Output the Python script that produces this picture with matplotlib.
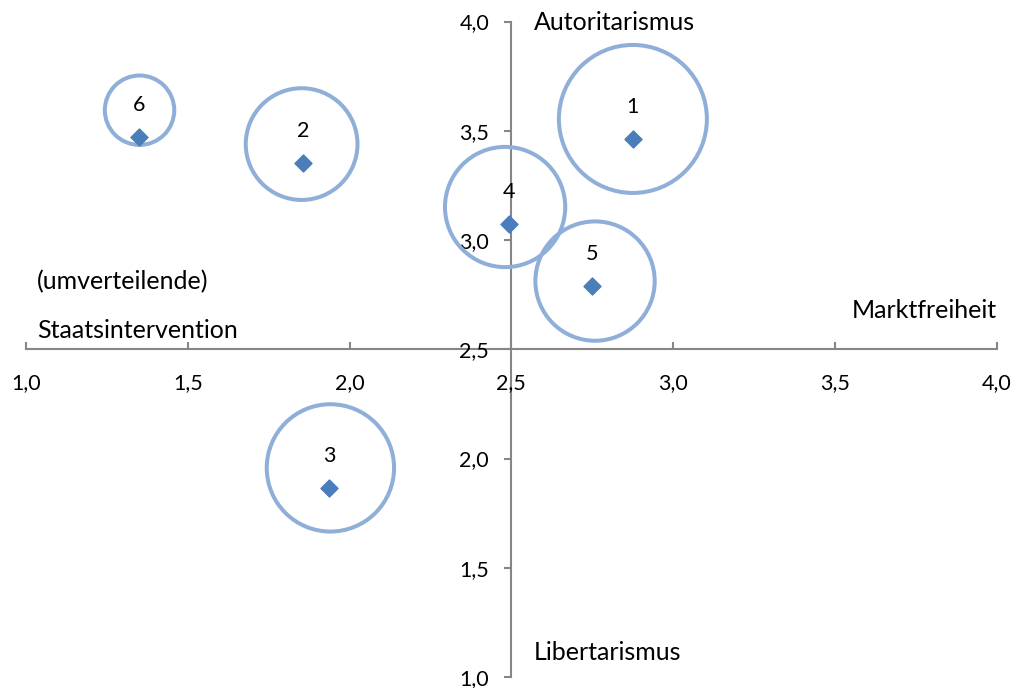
import matplotlib
matplotlib.use("Agg")
import matplotlib.pyplot as plt
from matplotlib.ticker import FuncFormatter
import numpy as np

# Daten: Parteien (Punkte) und Blasen
labels = ["1", "2", "3", "4", "5", "6"]
point_x = [2.876, 1.857, 1.937, 2.493, 2.751, 1.350]
point_y = [3.462, 3.351, 1.865, 3.072, 2.791, 3.470]
bubble_x = [2.876, 1.852, 1.941, 2.481, 2.759, 1.351]
bubble_y = [3.554, 3.439, 1.957, 3.151, 2.812, 3.594]
bubble_val = [100, 57, 74, 66, 65, 22]

ticks = [1.0, 1.5, 2.0, 2.5, 3.0, 3.5, 4.0]

plt.rcParams['font.family'] = ['Lato', 'DejaVu Sans']

dpi = 100
fig = plt.figure(figsize=(10.15, 6.88), dpi=dpi)
ax = fig.add_axes([26 / 1015, 11 / 688, 970.5 / 1015, 655.5 / 688])
ax.set_xlim(1, 4)
ax.set_ylim(1, 4)

# Blasen: Fläche proportional zum Wert, max. Radius ~74 px
r_max = 74
radii = [r_max * np.sqrt(v / 100) for v in bubble_val]
sizes = [(2 * r * 72 / dpi) ** 2 for r in radii]
ax.scatter(bubble_x, bubble_y, s=sizes, facecolors='none',
           edgecolors='#8FAFD9', linewidths=2.9, zorder=2, clip_on=False)

ax.scatter(point_x, point_y, marker='D', s=75, color='#4A7EBB', zorder=3)

for lab, x, y in zip(labels, point_x, point_y):
    ax.annotate(lab, (x, y), xytext=(0, 23), textcoords='offset points',
                ha='center', va='center', fontsize=15.5, color='black', zorder=4)

# Achsen im Kreuz bei (2,5 / 2,5)
for side in ['top', 'right']:
    ax.spines[side].set_visible(False)
ax.spines['left'].set_position(('data', 2.5))
ax.spines['bottom'].set_position(('data', 2.5))
for side in ['left', 'bottom']:
    ax.spines[side].set_color('#868686')
    ax.spines[side].set_linewidth(1.5)
    ax.spines[side].set_zorder(1)

fmt = FuncFormatter(lambda v, p: f"{v:.1f}".replace('.', ','))
ax.set_xticks(ticks)
ax.set_yticks(ticks)
ax.xaxis.set_major_formatter(fmt)
ax.yaxis.set_major_formatter(fmt)
ax.tick_params(axis='x', direction='in', length=5, width=1.5, color='#868686',
               labelsize=15.5, pad=17)
ax.tick_params(axis='y', direction='out', length=5, width=1.5, color='#868686',
               labelsize=15.5, pad=11)

# Achsenbeschriftungen
def px(xp, yp):
    return (xp / 1015, 1 - yp / 688)

fs = 18
fig.text(*px(534, 22), "Autoritarismus", fontsize=fs, ha='left', va='center')
fig.text(*px(534, 653), "Libertarismus", fontsize=fs, ha='left', va='center')
fig.text(*px(997, 310), "Marktfreiheit", fontsize=fs, ha='right', va='center')
fig.text(*px(37, 330), "Staatsintervention", fontsize=fs, ha='left', va='center')
fig.text(*px(37, 282), "(umverteilende)", fontsize=fs, ha='left', va='center')

fig.savefig("out.png", dpi=dpi)
